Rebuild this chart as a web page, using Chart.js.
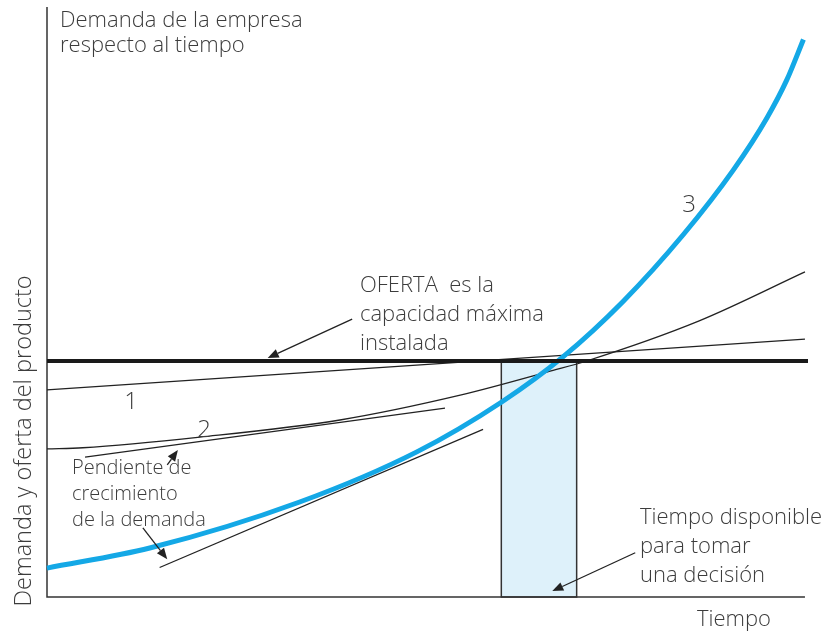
<!DOCTYPE html>
<html lang="es">
  <head>
    <meta charset="UTF-8" />
    <title>Demanda y oferta respecto al tiempo</title>
    <style>
      body {
        margin: 0;
        padding: 0;
        background-color: #fff;
      }

      #chart-box {
        width: 834px;
        height: 631px;
      }
    </style>
  </head>
  <body>
    <div id="chart-box">
      <canvas id="demanda-chart" width="834" height="631"></canvas>
    </div>

    <script src="https://cdn.jsdelivr.net/npm/chart.js"></script>
    <script>
      // curva 3: demanda de la empresa (azul)
      var demandaX = [0, 13.5, 33.2, 48.6, 59.8, 67.8, 75.7, 83.6, 90.2, 94.6, 97.2, 99.4];
      var demandaY = [4.9, 8.3, 16.1, 24.6, 33.1, 40.7, 50.1, 61.4, 72.4, 81.2, 87.6, 94.5];

      // curva 1 y curva 2
      var curva1X = [0, 99.6];
      var curva1Y = [35.1, 43.7];
      var curva2X = [0, 4.7, 20.1, 38.5, 54.3, 66.5, 70.9, 85.7, 99.6];
      var curva2Y = [25.1, 25.3, 27.1, 30.0, 34.2, 38.4, 40.0, 46.8, 55.1];

      // oferta = capacidad maxima instalada
      var ofertaX = [0, 100];
      var ofertaNivel = 40;

      // pendientes (tangentes)
      var tangente2X = [5.0, 52.3];
      var tangente2Y = [23.7, 32.0];
      var tangente3X = [14.8, 57.3];
      var tangente3Y = [5.0, 28.4];

      // tiempo disponible para tomar una decision
      var ventanaX = [59.7, 69.6];

      // flechas: [x inicio, y inicio, x punta, y punta]
      var flechas = [
        [40.1, 47.1, 29.0, 40.5],
        [15.8, 22.4, 17.2, 24.9],
        [12.6, 11.7, 15.8, 6.4],
        [77.3, 7.5, 66.4, 1.0],
      ];

      function toPoints(xs, ys) {
        var pts = [];
        for (var i = 0; i < xs.length; i++) {
          pts.push({ x: xs[i], y: ys[i] });
        }
        return pts;
      }

      var textColor = "#3c3c3c";
      var fontName = "'Open Sans', Lato, sans-serif";

      var dibujoPlugin = {
        id: "dibujo",
        beforeDatasetsDraw: function (chart) {
          var ctx = chart.ctx;
          var area = chart.chartArea;
          var xs = chart.scales.x;
          var ys = chart.scales.y;
          ctx.save();
          // rectangulo del tiempo disponible
          var rx1 = xs.getPixelForValue(ventanaX[0]);
          var rx2 = xs.getPixelForValue(ventanaX[1]);
          var ry = ys.getPixelForValue(ofertaNivel);
          ctx.fillStyle = "#def1fa";
          ctx.fillRect(rx1, ry, rx2 - rx1, area.bottom - ry);
          ctx.strokeStyle = "#333";
          ctx.lineWidth = 1.5;
          ctx.strokeRect(rx1, ry, rx2 - rx1, area.bottom - ry);
          // ejes
          ctx.beginPath();
          ctx.moveTo(area.left, area.top);
          ctx.lineTo(area.left, area.bottom);
          ctx.lineTo(xs.getPixelForValue(99.6), area.bottom);
          ctx.stroke();
          ctx.restore();
        },
        afterDatasetsDraw: function (chart) {
          var ctx = chart.ctx;
          var xs = chart.scales.x;
          var ys = chart.scales.y;
          ctx.save();

          // flechas
          ctx.strokeStyle = "#222";
          ctx.fillStyle = "#222";
          ctx.lineWidth = 1.3;
          flechas.forEach(function (f) {
            var x1 = xs.getPixelForValue(f[0]);
            var y1 = ys.getPixelForValue(f[1]);
            var x2 = xs.getPixelForValue(f[2]);
            var y2 = ys.getPixelForValue(f[3]);
            var ang = Math.atan2(y2 - y1, x2 - x1);
            var len = 11;
            var w = 4.5;
            var bx = x2 - len * Math.cos(ang);
            var by = y2 - len * Math.sin(ang);
            ctx.beginPath();
            ctx.moveTo(x1, y1);
            ctx.lineTo(bx, by);
            ctx.stroke();
            ctx.beginPath();
            ctx.moveTo(x2, y2);
            ctx.lineTo(bx + w * Math.sin(ang), by - w * Math.cos(ang));
            ctx.lineTo(bx - w * Math.sin(ang), by + w * Math.cos(ang));
            ctx.closePath();
            ctx.fill();
          });

          // textos
          ctx.fillStyle = textColor;
          ctx.textBaseline = "alphabetic";
          ctx.textAlign = "left";
          ctx.font = "300 22px " + fontName;
          ctx.fillText("Demanda de la empresa", 60, 27);
          ctx.fillText("respecto al tiempo", 60, 52);
          ctx.fillText("OFERTA  es la", 360, 292);
          ctx.fillText("capacidad máxima", 360, 321);
          ctx.fillText("instalada", 360, 350);
          ctx.fillText("Tiempo disponible", 640, 524);
          ctx.fillText("para tomar", 640, 553);
          ctx.fillText("una decisión", 640, 582);
          ctx.fillText("Tiempo", 697, 626);

          ctx.font = "300 20px " + fontName;
          ctx.fillText("Pendiente de", 72, 474);
          ctx.fillText("crecimiento", 72, 500);
          ctx.fillText("de la demanda", 72, 526);

          ctx.textAlign = "center";
          ctx.font = "300 24px " + fontName;
          ctx.fillText("1", 131, 409);
          ctx.fillText("2", 204, 437);
          ctx.fillText("3", 689, 212);

          ctx.translate(31, 441);
          ctx.rotate(-Math.PI / 2);
          ctx.font = "300 23.5px " + fontName;
          ctx.fillText("Demanda y oferta del producto", 0, 0);
          ctx.restore();
        },
      };

      var ctx = document.getElementById("demanda-chart").getContext("2d");
      var chart = new Chart(ctx, {
        type: "scatter",
        data: {
          datasets: [
            {
              label: "Oferta",
              data: toPoints(ofertaX, [ofertaNivel, ofertaNivel]),
              borderColor: "#1a1a1a",
              borderWidth: 4,
              showLine: true,
              pointRadius: 0,
              order: 0,
            },
            {
              label: "3",
              data: toPoints(demandaX, demandaY),
              borderColor: "#14a8e6",
              borderWidth: 5,
              showLine: true,
              pointRadius: 0,
              cubicInterpolationMode: "monotone",
              order: 1,
            },
            {
              label: "1",
              data: toPoints(curva1X, curva1Y),
              borderColor: "#222",
              borderWidth: 1.3,
              showLine: true,
              pointRadius: 0,
              order: 2,
            },
            {
              label: "2",
              data: toPoints(curva2X, curva2Y),
              borderColor: "#222",
              borderWidth: 1.3,
              showLine: true,
              pointRadius: 0,
              cubicInterpolationMode: "monotone",
              order: 2,
            },
            {
              label: "Pendiente 2",
              data: toPoints(tangente2X, tangente2Y),
              borderColor: "#222",
              borderWidth: 1.3,
              showLine: true,
              pointRadius: 0,
              order: 2,
            },
            {
              label: "Pendiente 3",
              data: toPoints(tangente3X, tangente3Y),
              borderColor: "#222",
              borderWidth: 1.3,
              showLine: true,
              pointRadius: 0,
              order: 2,
            },
          ],
        },
        options: {
          responsive: false,
          animation: false,
          clip: false,
          layout: {
            padding: { left: 47, right: 26, top: 7, bottom: 34 },
          },
          plugins: {
            legend: { display: false },
            tooltip: { enabled: false },
          },
          scales: {
            x: { type: "linear", min: 0, max: 100, display: false },
            y: { type: "linear", min: 0, max: 100, display: false },
          },
        },
        plugins: [dibujoPlugin],
      });
    </script>
  </body>
</html>
